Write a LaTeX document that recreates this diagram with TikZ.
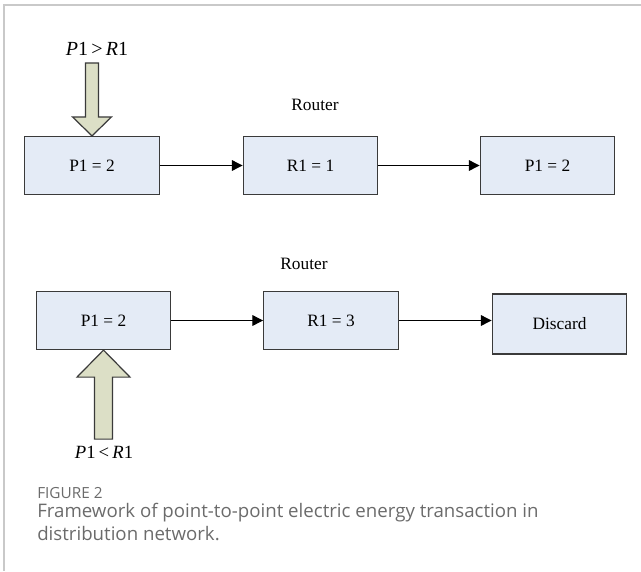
\documentclass[tikz,border=0pt]{standalone}
\usepackage{fontspec}
\setmainfont{Liberation Serif}
\newfontfamily\capfont{Open Sans}
\usetikzlibrary{arrows.meta}
\definecolor{boxfill}{HTML}{E4EBF6}
\definecolor{padfill}{HTML}{DCDFC6}
\definecolor{edgegray}{HTML}{3A3A3A}
\definecolor{capgray}{HTML}{6B6B6B}
\definecolor{framegray}{HTML}{C9C9C9}
\begin{document}
\begin{tikzpicture}[x=0.75pt, y=-0.75pt,
    stage/.style={draw=edgegray, fill=boxfill, line width=0.9pt, minimum width=101pt, minimum height=43.5pt, inner sep=0pt, font=\fontsize{13}{15}\selectfont},
    flow/.style={-{Triangle[length=8pt, width=8pt]}, line width=0.8pt},
    pad/.style={draw=edgegray, fill=padfill, line width=0.9pt},
    tag/.style={font=\fontsize{13}{15}\selectfont}]
    \useasboundingbox (0,0) rectangle (641,571);
    % frame of the figure
    \draw[framegray, line width=1pt] (641,5) -- (4,5) -- (4,571);

    % first case: forwarded
    \node[stage] (P1a) at (92,165.5) {P1 = 2};
    \node[stage] (R1a) at (310.5,165.5) {R1 = 1};
    \node[stage] (P1b) at (547.5,165.5) {P1 = 2};
    \node[tag] (routerA) at (315,105) {Router};
    \node[tag, font=\fontsize{15}{17}\selectfont] (condA) at (97,49) {\textit{P}1\,>\,\textit{R}1};
    \draw[flow] (P1a) -- (R1a);
    \draw[flow] (R1a) -- (P1b);
    \draw[pad, shift={(P1a.north)}] (0,0) -- (-19.5,-19) -- (-6.5,-19) -- (-6.5,-73) -- (6.5,-73) -- (6.5,-19) -- (19.5,-19) -- cycle;

    % second case: discarded
    \node[stage] (P1c) at (103.5,320.5) {P1 = 2};
    \node[stage] (R1c) at (331,320.5) {R1 = 3};
    \node[stage, minimum height=45pt] (drop) at (559.5,324) {Discard};
    \node[tag] (routerB) at (304,264) {Router};
    \node[tag, font=\fontsize{14}{16}\selectfont] (condB) at (104,452) {\textit{P}1\,<\,\textit{R}1};
    \draw[flow] (R1c) -- (R1c -| drop.west);
    \draw[flow] (P1c) -- (R1c);
    \draw[pad, shift={(P1c.south)}] (0,0) -- (26.5,27) -- (9,27) -- (9,89) -- (-9,89) -- (-9,27) -- (-26.5,27) -- cycle;

    % caption
    \node[anchor=west, inner sep=0pt, text=capgray, font=\capfont\fontsize{11.5}{13}\selectfont] (figno) at (37,493) {FIGURE 2};
    \node[anchor=north west, inner sep=0pt, text=capgray, align=left, font=\capfont\fontsize{14}{17.5}\selectfont] (caption) at (37,503) {Framework of point-to-point electric energy transaction in\\distribution network.};
\end{tikzpicture}
\end{document}
